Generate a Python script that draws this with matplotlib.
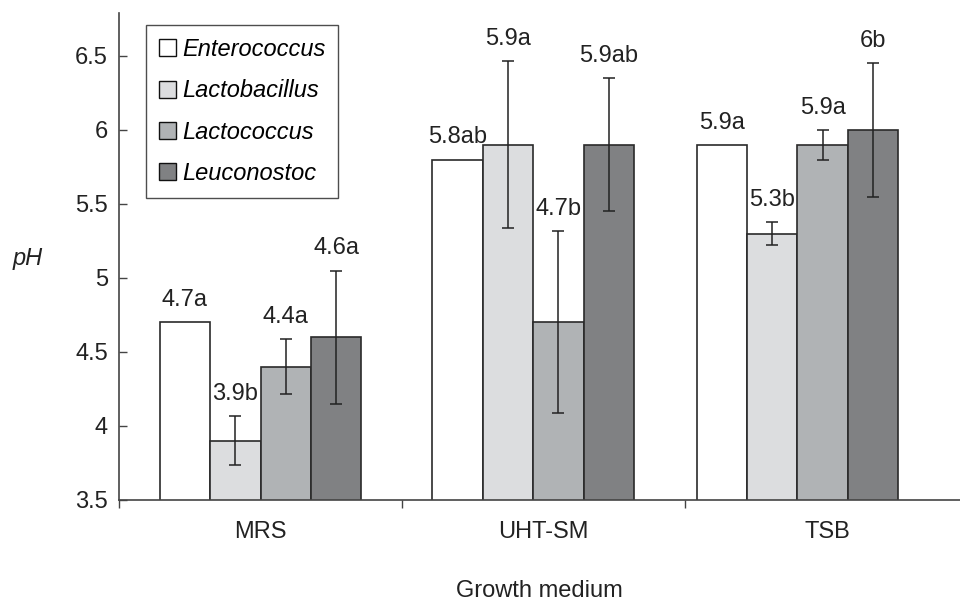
import numpy as np
import matplotlib
matplotlib.use("Agg")
import matplotlib.pyplot as plt

plt.rcParams['font.family'] = ['Liberation Sans', 'DejaVu Sans']

# data
media = ['MRS', 'UHT-SM', 'TSB']
genera = ['Enterococcus', 'Lactobacillus', 'Lactococcus', 'Leuconostoc']
ph_mean = {
    'Enterococcus':  [4.7, 5.8, 5.9],
    'Lactobacillus': [3.9, 5.9, 5.3],
    'Lactococcus':   [4.4, 4.7, 5.9],
    'Leuconostoc':   [4.6, 5.9, 6.0],
}
ph_err = {
    'Enterococcus':  [0.0, 0.0, 0.0],
    'Lactobacillus': [0.165, 0.565, 0.075],
    'Lactococcus':   [0.185, 0.615, 0.10],
    'Leuconostoc':   [0.45, 0.45, 0.45],
}
bar_labels = {
    'Enterococcus':  ['4.7a', '5.8ab', '5.9a'],
    'Lactobacillus': ['3.9b', '5.9a', '5.3b'],
    'Lactococcus':   ['4.4a', '4.7b', '5.9a'],
    'Leuconostoc':   ['4.6a', '5.9ab', '6b'],
}

colors = ['#ffffff', '#dcdddf', '#b0b3b5', '#808183']
group_centers = [0.0, 0.963, 1.896]   # bars are not quite centred on the ticks
width = 0.178
fs = 17

fig = plt.figure(figsize=(9.6, 6.02), dpi=100)
ax = fig.add_axes([119 / 960, 1 - 500 / 602, 1 - 119 / 960, 487 / 602])

for i, g in enumerate(genera):
    xs = np.array(group_centers) + (i - 1.5) * width
    ax.bar(xs, ph_mean[g], width=width, bottom=0, color=colors[i],
           edgecolor='#2a2a2a', linewidth=1.2, label=g, zorder=2)
    for x, m, e, lab in zip(xs, ph_mean[g], ph_err[g], bar_labels[g]):
        if e > 0:
            ax.errorbar(x, m, yerr=e, fmt='none', ecolor='#222222',
                        elinewidth=1.1, capsize=4, capthick=1.1, zorder=3)
        ax.annotate(lab, (x, m + e), xytext=(0, 16), textcoords='offset points',
                    ha='center', va='center', fontsize=fs, color='#222222')

ax.set_ylim(3.5, 6.79)
ax.set_xlim(-0.5, 2.47)

ax.set_yticks([3.5, 4, 4.5, 5, 5.5, 6, 6.5])
ax.set_yticklabels(['3.5', '4', '4.5', '5', '5.5', '6', '6.5'])
ax.tick_params(axis='y', direction='in', length=6, width=1, color='#444444',
               pad=8, labelsize=fs, labelcolor='#222222')

ax.set_xticks([0, 1, 2])
ax.set_xticklabels(media)
ax.set_xticks([-0.5, 0.5, 1.5], minor=True)
ax.tick_params(axis='x', which='major', length=0, pad=15, labelsize=fs,
               labelcolor='#222222')
ax.tick_params(axis='x', which='minor', direction='out', length=6, width=1,
               color='#444444')

for s in ['top', 'right']:
    ax.spines[s].set_visible(False)
for s in ['left', 'bottom']:
    ax.spines[s].set_color('#444444')
    ax.spines[s].set_linewidth(1.2)

ax.set_ylabel('pH', rotation=0, fontsize=fs, fontstyle='italic',
              color='#222222', ha='center', va='center')
ax.yaxis.set_label_coords(-0.109, 0.495)
ax.set_xlabel('Growth medium', fontsize=fs, color='#222222', va='baseline')
ax.xaxis.set_label_coords(0.5, -0.2)

leg = ax.legend(loc='upper left', bbox_to_anchor=(0.032, 0.975),
                borderaxespad=0, frameon=True, fancybox=False,
                prop={'size': fs, 'style': 'italic'},
                handlelength=0.72, handleheight=0.72, handletextpad=0.25,
                labelspacing=0.77, borderpad=0.55)
leg.get_frame().set_edgecolor('#222222')
leg.get_frame().set_linewidth(1.0)
for h in leg.legend_handles:
    h.set_edgecolor('#111111')
    h.set_linewidth(1.0)

fig.savefig('out.png', dpi=100)
